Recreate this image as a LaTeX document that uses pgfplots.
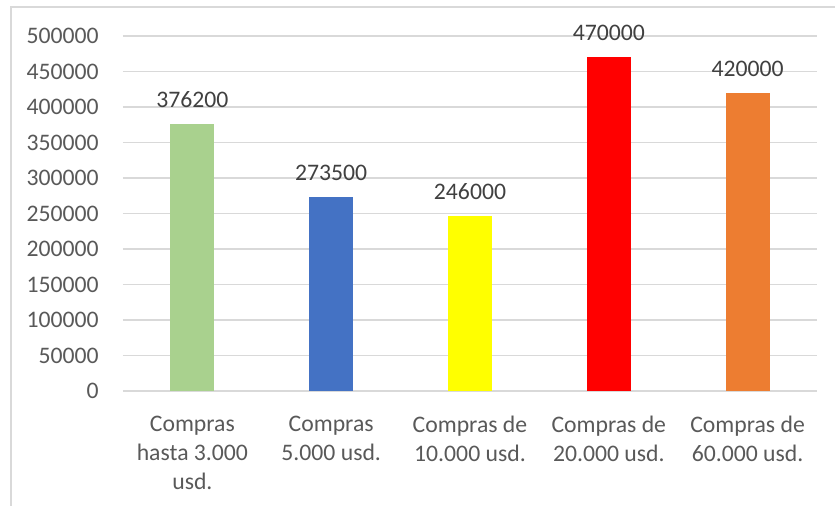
\documentclass[border=0pt]{standalone}
\usepackage{pgfplots}
\pgfplotsset{compat=1.18}
\usepackage{fontspec}
\setmainfont{Carlito}
\definecolor{gridc}{HTML}{D9D9D9}
\definecolor{tickc}{HTML}{595959}
\definecolor{labc}{HTML}{404040}
\definecolor{cgreen}{HTML}{A9D18E}
\definecolor{cblue}{HTML}{4472C4}
\definecolor{cyellow}{HTML}{FFFF00}
\definecolor{cred}{HTML}{FF0000}
\definecolor{corange}{HTML}{ED7D31}
\begin{document}
\fontsize{11.85}{14.5}\selectfont
\begin{tikzpicture}
\path[use as bounding box] (0,0) rectangle (417.5pt,253pt);
\draw[gridc, line width=0.75pt] (5.5pt,0) -- (5.5pt,249.5pt) -- (417.5pt,249.5pt);
\begin{axis}[
  at={(61.5pt,57.5pt)}, anchor=south west,
  scale only axis, width=347pt, height=177.5pt,
  xmin=-0.5, xmax=4.5, ymin=0, ymax=500000,
  ybar, bar width=22pt, bar shift=0pt,
  axis line style={draw=none},
  tick style={draw=none},
  ymajorgrids, grid style={gridc, line width=0.75pt},
  ytick={0,50000,...,500000},
  scaled y ticks=false,
  /pgf/number format/assume math mode=true,
  yticklabel={\pgfmathprintnumber[fixed,1000 sep={}]{\tick}},
  yticklabel style={text=tickc, font=\fontsize{11.85}{14.5}\selectfont, xshift=-8pt},
  xtick={0,1,2,3,4},
  xticklabels={{Compras\\hasta 3.000\\usd.},{Compras\\5.000 usd.},{Compras de\\10.000 usd.},{Compras de\\20.000 usd.},{Compras de\\60.000 usd.}},
  xticklabel style={text=tickc, align=center, font=\fontsize{11.85}{14.5}\selectfont, yshift=-4pt},
  nodes near coords,
  nodes near coords style={text=labc, font=\fontsize{11.85}{14.5}\selectfont, /pgf/number format/fixed, /pgf/number format/1000 sep={}, yshift=4pt},
  clip=false,
]
\addplot[fill=cgreen, draw=none] coordinates {(0,376200)};
\addplot[fill=cblue, draw=none] coordinates {(1,273500)};
\addplot[fill=cyellow, draw=none] coordinates {(2,246000)};
\addplot[fill=cred, draw=none] coordinates {(3,470000)};
\addplot[fill=corange, draw=none] coordinates {(4,420000)};
\end{axis}
\end{tikzpicture}
\end{document}
